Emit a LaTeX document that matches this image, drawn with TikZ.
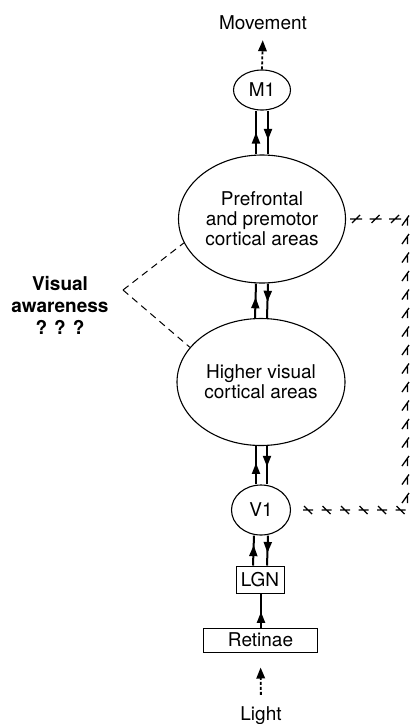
\documentclass[tikz,border=0pt]{standalone}
\usepackage{fontspec}
\setmainfont{TeX Gyre Heros}
\usetikzlibrary{shapes.geometric,arrows.meta,decorations.markings}
\begin{document}
\begin{tikzpicture}[x=1pt,y=-1pt,
  lbl/.style={font=\fontsize{19}{20}\selectfont, inner sep=0pt, align=center},
  area/.style={ellipse, draw, line width=1.1pt, inner sep=0pt, lbl},
  box/.style={rectangle, draw, line width=1pt, inner sep=0pt, lbl},
  midarr/.style={line width=2pt, postaction={decorate},
    decoration={markings, mark=at position #1 with {\arrow{Triangle[length=11pt,width=8pt]}}}},
  dasharr/.style={line width=1.8pt, dash pattern=on 3pt off 2pt, -{Triangle[length=11pt,width=8.5pt]}},
  awline/.style={line width=1pt, dash pattern=on 7pt off 5pt},
  synmark/.style={line width=1.3pt}
]
\useasboundingbox (0,0) rectangle (410,724);

\node[lbl] (mov) at (263,23) {Movement};
\node[area, minimum width=57pt, minimum height=40pt] (m1) at (262,90) {M1};
\node[area, minimum width=167pt, minimum height=128pt] (pref) at (262,219) {Prefrontal\\and premotor\\cortical areas};
\node[area, minimum width=168pt, minimum height=127pt] (high) at (261,382) {Higher visual\\cortical areas};
\node[area, minimum width=59pt, minimum height=50pt] (v1) at (261,510) {V1};
\node[box, minimum width=48pt, minimum height=27pt] (lgn) at (260,579.5) {LGN};
\node[box, minimum width=114pt, minimum height=24pt] (ret) at (260.5,640) {Retinae};
\node[lbl] (light) at (261,716) {Light};
\node[lbl, font=\bfseries\fontsize{19}{22}\selectfont] (aw) at (60,305) {Visual\\awareness\\? ? ?};

% vertical double arrows
\draw[midarr=0.5] ([xshift=-6pt]pref.north) -- ([xshift=-6pt]m1.south);
\draw[midarr=0.67] ([xshift=6pt]m1.south) -- ([xshift=6pt]pref.north);
\draw[midarr=0.6] ([xshift=-6pt]high.north) -- ([xshift=-6pt]pref.south);
\draw[midarr=0.53] ([xshift=6pt]pref.south) -- ([xshift=6pt]high.north);
\draw[midarr=0.56] ([xshift=-5pt]v1.north) -- ([xshift=-5pt]high.south);
\draw[midarr=0.54] ([xshift=6pt]high.south) -- ([xshift=6pt]v1.north);
\draw[midarr=0.68] ([xshift=-7pt]lgn.north) -- ([xshift=-7pt]v1.south);
\draw[midarr=0.58] ([xshift=7pt]v1.south) -- ([xshift=7pt]lgn.north);
\draw[midarr=0.46] ([xshift=0.5pt]ret.north) -- ([xshift=1pt]lgn.south);

% dashed input/output arrows
\draw[dasharr, shorten >=10pt] (m1.north) -- (mov.south);
\draw[dasharr, shorten <=12pt, shorten >=15pt] (light.north) -- (ret.south);

% visual awareness dashed lines
\coordinate (apex) at (123,290);
\draw[awline] (apex) -- (pref.197);
\draw[awline] (apex) -- (high.154);

% V1 to prefrontal chain
\coordinate (bc) at (406,510);
\coordinate (tc) at (406,219);
\path[postaction={decorate}, decoration={markings,
  mark=between positions 17pt and 112pt step 18.5pt with {\draw[synmark] (-5pt,0pt) -- (5pt,0pt) (-4pt,4pt) -- (4pt,-4pt);}}]
  (v1.east) -- (bc);
\path[postaction={decorate}, decoration={markings,
  mark=between positions 12pt and 290pt step 18.5pt with {\draw[synmark] (-5pt,-1.5pt) -- (2pt,-1.5pt) (-5pt,4pt) -- (5pt,-3pt);}}]
  (bc) -- (tc);
\path[postaction={decorate}, decoration={markings,
  mark=between positions 10pt and 55pt step 19.5pt with {\draw[synmark] (-6pt,0pt) -- (6pt,0pt) (-4pt,-4pt) -- (4pt,4pt);}}]
  (pref.east) -- (tc);
\end{tikzpicture}
\end{document}
